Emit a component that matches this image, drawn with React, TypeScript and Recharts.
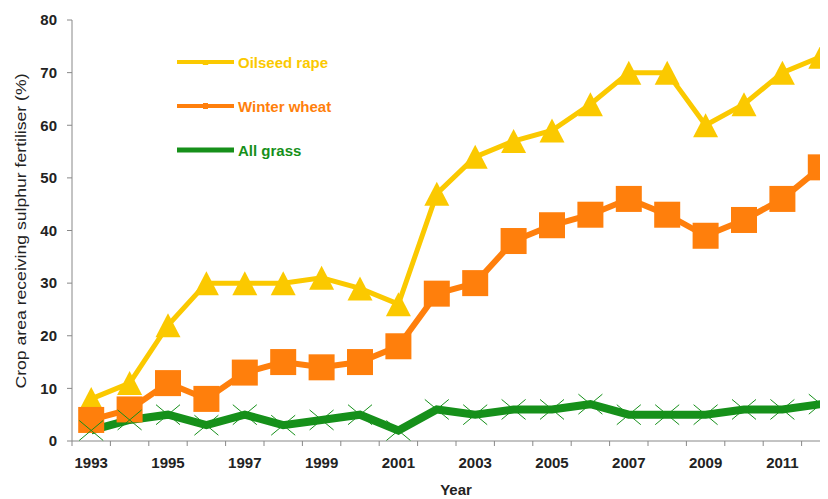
import { LineChart, Line, XAxis, YAxis } from "recharts"

const YEARS = [
  1993, 1994, 1995, 1996, 1997, 1998, 1999, 2000, 2001, 2002,
  2003, 2004, 2005, 2006, 2007, 2008, 2009, 2010, 2011, 2012,
]
const OILSEED_RAPE = [8, 11, 22, 30, 30, 30, 31, 29, 26, 47, 54, 57, 59, 64, 70, 70, 60, 64, 70, 73]
const WINTER_WHEAT = [4, 6, 11, 8, 13, 15, 14, 15, 18, 28, 30, 38, 41, 43, 46, 43, 39, 42, 46, 52]
const ALL_GRASS = [2, 4, 5, 3, 5, 3, 4, 5, 2, 6, 5, 6, 6, 7, 5, 5, 5, 6, 6, 7]
const YEAR_LABELS = [1993, 1995, 1997, 1999, 2001, 2003, 2005, 2007, 2009, 2011]
const Y_TICKS = [0, 10, 20, 30, 40, 50, 60, 70, 80]

const YELLOW = "#fbc900"
const ORANGE = "#ff7f0c"
const GREEN = "#16901a"
const TEXT = "#222"
const FONT = "'Liberation Sans', Arial, sans-serif"

const CHART_W = 850
const CHART_H = 500
const MARGIN = { top: 12, right: 18, bottom: 7, left: 0 }
const Y_AXIS_W = 64
const BAND = (CHART_W - MARGIN.left - MARGIN.right - Y_AXIS_W) / YEARS.length

const data = YEARS.map((year, i) => ({
  year,
  rape: OILSEED_RAPE[i],
  wheat: WINTER_WHEAT[i],
  grass: ALL_GRASS[i],
}))

// tick marks sit on the category boundaries, labels in the middle of every other year
const BOUNDARIES = [...YEARS.map((y) => y - 0.5), YEARS[YEARS.length - 1] + 0.5]

const YearTick = (props: any) => {
  const { x, y, payload } = props
  const year = payload.value + 0.5
  if (!YEAR_LABELS.includes(year)) return <g />
  return (
    <text
      x={x + BAND / 2}
      y={y + 22}
      textAnchor="middle"
      fontFamily={FONT}
      fontSize={15}
      fontWeight={700}
      fill={TEXT}
    >
      {year}
    </text>
  )
}

const Triangle = (props: any) => {
  const { cx, cy, key } = props
  if (cx == null || cy == null) return <g key={key} />
  return (
    <path
      key={key}
      d={`M${cx},${cy - 12} L${cx + 12.5},${cy + 12} L${cx - 12.5},${cy + 12} Z`}
      fill={YELLOW}
    />
  )
}

const Square = (props: any) => {
  const { cx, cy, key } = props
  if (cx == null || cy == null) return <g key={key} />
  return <rect key={key} x={cx - 13} y={cy - 13} width={26} height={26} fill={ORANGE} />
}

const Cross = (props: any) => {
  const { cx, cy, key } = props
  if (cx == null || cy == null) return <g key={key} />
  return (
    <path
      key={key}
      d={`M${cx - 12},${cy - 10} L${cx + 12},${cy + 10} M${cx + 12},${cy - 10} L${cx - 12},${cy + 10}`}
      stroke={GREEN}
      strokeWidth={1}
      fill="none"
    />
  )
}

const LEGEND_ITEMS = [
  { label: "Oilseed rape", color: YELLOW, marker: "triangle" },
  { label: "Winter wheat", color: ORANGE, marker: "square" },
  { label: "All grass", color: GREEN, marker: "none" },
]

const ChartLegend = () => (
  <div style={{ position: "absolute", left: 169, top: 44, fontFamily: FONT, fontSize: 15, fontWeight: 700 }}>
    {LEGEND_ITEMS.map((item, i) => (
      <div
        key={item.label}
        style={{ display: "flex", alignItems: "center", height: 20, marginTop: i === 0 ? 0 : 24 }}
      >
        <svg width={57} height={12} style={{ marginRight: 4 }}>
          <line x1={0} y1={6} x2={57} y2={6} stroke={item.color} strokeWidth={item.marker === "none" ? 5 : 4} />
          {item.marker === "triangle" && <path d="M28.5,4 L31.5,9 L25.5,9 Z" fill={item.color} />}
          {item.marker === "square" && <rect x={26} y={3} width={5} height={6} fill={item.color} />}
        </svg>
        <span style={{ color: item.color }}>{item.label}</span>
      </div>
    ))}
  </div>
)

const YLabel = () => (
  <text
    x={12}
    y={223}
    transform="rotate(-90, 12, 223)"
    textAnchor="middle"
    dominantBaseline="central"
    fontFamily={FONT}
    fontSize={15}
    textLength={315}
    lengthAdjust="spacingAndGlyphs"
    fill={TEXT}
  >
    Crop area receiving sulphur fertiliser (%)
  </text>
)

export default function App() {
  return (
    <div style={{ position: "relative", width: 820, height: 491, overflow: "hidden" }}>
      <LineChart width={CHART_W} height={CHART_H} data={data} margin={MARGIN}>
        <XAxis
          dataKey="year"
          type="number"
          domain={[1992.5, 2012.5]}
          ticks={BOUNDARIES}
          interval={0}
          tick={<YearTick />}
          tickSize={5}
          tickMargin={0}
          axisLine={{ stroke: "#888" }}
          tickLine={{ stroke: "#888" }}
          height={60}
          allowDataOverflow
          label={{
            value: "Year",
            position: "insideBottom",
            offset: 6,
            style: { fontFamily: FONT, fontSize: 15, fontWeight: 700, fill: TEXT },
          }}
        />
        <YAxis
          domain={[0, 80]}
          ticks={Y_TICKS}
          interval={0}
          width={Y_AXIS_W}
          axisLine={{ stroke: "#888" }}
          tickLine={{ stroke: "#888" }}
          tickSize={5}
          tickMargin={10}
          tick={{ fontFamily: FONT, fontSize: 15, fontWeight: 700, fill: TEXT }}
          label={<YLabel />}
        />
        <Line
          dataKey="rape"
          name="Oilseed rape"
          stroke={YELLOW}
          strokeWidth={5}
          dot={Triangle}
          activeDot={false}
          isAnimationActive={false}
        />
        <Line
          dataKey="wheat"
          name="Winter wheat"
          stroke={ORANGE}
          strokeWidth={6}
          dot={Square}
          activeDot={false}
          isAnimationActive={false}
        />
        <Line
          dataKey="grass"
          name="All grass"
          stroke={GREEN}
          strokeWidth={8}
          dot={Cross}
          activeDot={false}
          isAnimationActive={false}
        />
      </LineChart>
      <ChartLegend />
    </div>
  )
}
